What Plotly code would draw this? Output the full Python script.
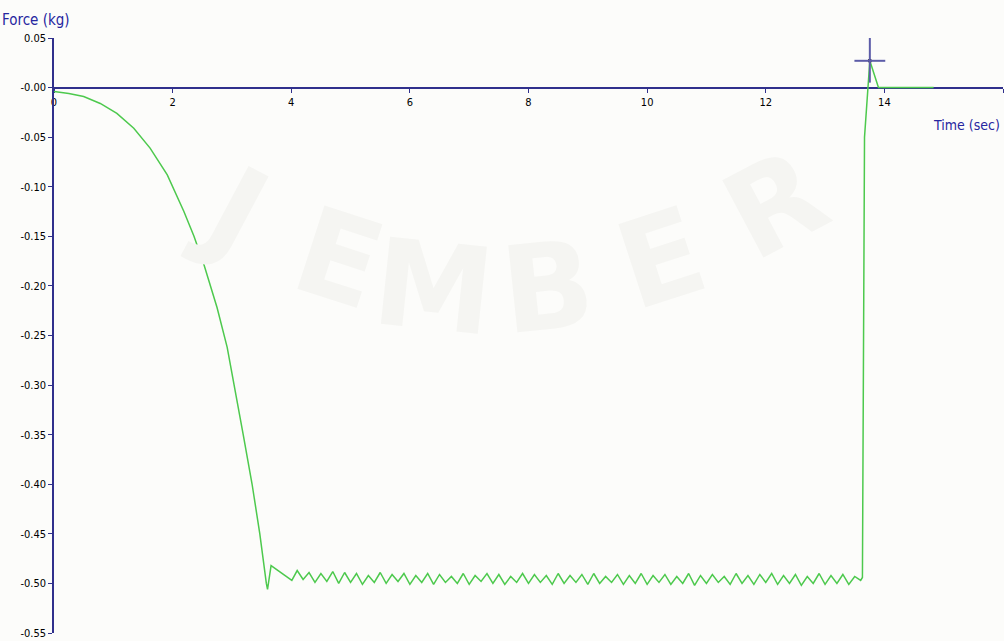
import plotly.graph_objects as go

# Force sensor trace: ramp-down, holding phase with ripple, release spike
ramp_t = [0.00, 0.25, 0.50, 0.78, 1.06, 1.345, 1.62, 1.91, 2.19, 2.36, 2.525,
          2.75, 2.92, 3.04, 3.19, 3.34, 3.47, 3.58, 3.60, 3.66, 3.78, 3.90, 4.01]
ramp_f = [-0.004, -0.006, -0.009, -0.016, -0.026, -0.041, -0.061, -0.088, -0.125,
          -0.150, -0.178, -0.222, -0.262, -0.300, -0.350, -0.400, -0.450, -0.500,
          -0.506, -0.482, -0.487, -0.492, -0.497]

hold_t = [4.10, 4.20, 4.30, 4.40, 4.50, 4.60, 4.70, 4.80, 4.90, 5.00,
          5.10, 5.20, 5.30, 5.40, 5.50, 5.60, 5.70, 5.80, 5.90, 6.00,
          6.10, 6.20, 6.30, 6.40, 6.50, 6.60, 6.70, 6.80, 6.90, 7.00,
          7.10, 7.20, 7.30, 7.40, 7.50, 7.60, 7.70, 7.80, 7.90, 8.00,
          8.10, 8.20, 8.30, 8.40, 8.50, 8.60, 8.70, 8.80, 8.90, 9.00,
          9.10, 9.20, 9.30, 9.40, 9.50, 9.60, 9.70, 9.80, 9.90, 10.00,
          10.10, 10.20, 10.30, 10.40, 10.50, 10.60, 10.70, 10.80, 10.90, 11.00,
          11.10, 11.20, 11.30, 11.40, 11.50, 11.60, 11.70, 11.80, 11.90, 12.00,
          12.10, 12.20, 12.30, 12.40, 12.50, 12.60, 12.70, 12.80, 12.90, 13.00,
          13.10, 13.20, 13.30, 13.40, 13.50, 13.60]
hold_f = [-0.487, -0.496, -0.489, -0.499, -0.490, -0.498, -0.488, -0.500, -0.489, -0.499,
          -0.490, -0.501, -0.492, -0.499, -0.489, -0.500, -0.491, -0.498, -0.490, -0.501,
          -0.492, -0.499, -0.490, -0.501, -0.491, -0.499, -0.493, -0.500, -0.490, -0.501,
          -0.492, -0.498, -0.490, -0.500, -0.491, -0.501, -0.493, -0.499, -0.490, -0.500,
          -0.491, -0.499, -0.492, -0.501, -0.490, -0.500, -0.492, -0.499, -0.491, -0.501,
          -0.490, -0.500, -0.493, -0.499, -0.491, -0.501, -0.492, -0.500, -0.490, -0.501,
          -0.492, -0.499, -0.491, -0.501, -0.493, -0.500, -0.490, -0.502, -0.492, -0.500,
          -0.491, -0.499, -0.493, -0.501, -0.490, -0.500, -0.492, -0.501, -0.491, -0.499,
          -0.490, -0.501, -0.492, -0.500, -0.491, -0.502, -0.493, -0.500, -0.490, -0.501,
          -0.492, -0.500, -0.491, -0.501, -0.493, -0.497]

release_t = [13.63, 13.665, 13.755, 13.90, 14.83]
release_f = [-0.494, -0.050, 0.027, 0.000, 0.000]

# Cursor readout position
cursor_t = 13.755
cursor_f = 0.027

x_ticks = [0, 2, 4, 6, 8, 10, 12, 14, 16]
y_ticks = [0.05, 0.00, -0.05, -0.10, -0.15, -0.20, -0.25, -0.30, -0.35, -0.40, -0.45, -0.50, -0.55]
y_labels = ["0.05", "-0.00", "-0.05", "-0.10", "-0.15", "-0.20", "-0.25", "-0.30",
            "-0.35", "-0.40", "-0.45", "-0.50", "-0.55"]

watermark = ["J", "E", "M", "B", "E", "R"]
wm_x = [0.19, 0.30, 0.40, 0.52, 0.64, 0.76]
wm_y = [0.71, 0.63, 0.58, 0.58, 0.63, 0.72]
wm_angle = [28, 18, 6, -6, -18, -28]

AXIS = "#30308c"
GREEN = "#4dc94d"
CURSOR = "#5c5ca8"
FONT = "Liberation Sans Narrow, DejaVu Sans Condensed, Arial Narrow, Liberation Sans, sans-serif"

time = ramp_t + hold_t + release_t
force = ramp_f + hold_f + release_f

fig = go.Figure()

fig.add_trace(go.Scatter(x=time, y=force, mode="lines",
                         line=dict(color=GREEN, width=1.5, shape="linear"),
                         hoverinfo="skip", showlegend=False))

# Crosshair cursor
fig.add_shape(type="line", xref="x", yref="y",
              x0=cursor_t - 0.26, x1=cursor_t + 0.26, y0=cursor_f, y1=cursor_f,
              line=dict(color=CURSOR, width=2))
fig.add_shape(type="line", xref="x", yref="y",
              x0=cursor_t, x1=cursor_t, y0=cursor_f - 0.022, y1=cursor_f + 0.023,
              line=dict(color=CURSOR, width=2))
fig.add_trace(go.Scatter(x=[cursor_t], y=[cursor_f], mode="markers",
                         marker=dict(color="black", size=4),
                         hoverinfo="skip", showlegend=False))

annotations = [
    dict(text="Force (kg)", xref="paper", yref="paper", x=-0.0569, y=1.030,
         xanchor="left", yanchor="middle", showarrow=False,
         font=dict(family=FONT, size=15, color="#2626a0")),
    dict(text="Time (sec)", xref="paper", yref="paper", x=0.999, y=0.854,
         xanchor="right", yanchor="middle", showarrow=False,
         font=dict(family=FONT, size=14, color="#2626a0")),
]
for ch, wx, wy, wa in zip(watermark, wm_x, wm_y, wm_angle):
    annotations.append(dict(text="<b>" + ch + "</b>", xref="paper", yref="paper",
                            x=wx, y=wy, xanchor="center", yanchor="middle",
                            showarrow=False, textangle=wa,
                            font=dict(family="DejaVu Sans", size=120, color="#f5f5f2")))

fig.update_layout(
    width=1004, height=641,
    margin=dict(l=54, r=1, t=38, b=6),
    paper_bgcolor="#fcfcfa", plot_bgcolor="#fcfcfa",
    showlegend=False,
    annotations=annotations,
    xaxis=dict(range=[0, 16], anchor="free", position=0.55 / 0.60,
               tickvals=x_ticks, ticktext=[str(v) for v in x_ticks],
               ticks="outside", ticklen=4, tickwidth=1, tickcolor=AXIS,
               showline=True, linecolor=AXIS, linewidth=2, layer="below traces",
               showgrid=False, zeroline=False,
               tickfont=dict(family=FONT, size=11, color="black")),
    yaxis=dict(range=[-0.55, 0.05],
               tickvals=y_ticks, ticktext=y_labels,
               ticks="outside", ticklen=4, tickwidth=1, tickcolor=AXIS,
               showline=True, linecolor=AXIS, linewidth=1.5,
               showgrid=False, zeroline=False, ticklabeloverflow="allow",
               tickfont=dict(family=FONT, size=11, color="black")),
)

fig.write_html("out.html")
